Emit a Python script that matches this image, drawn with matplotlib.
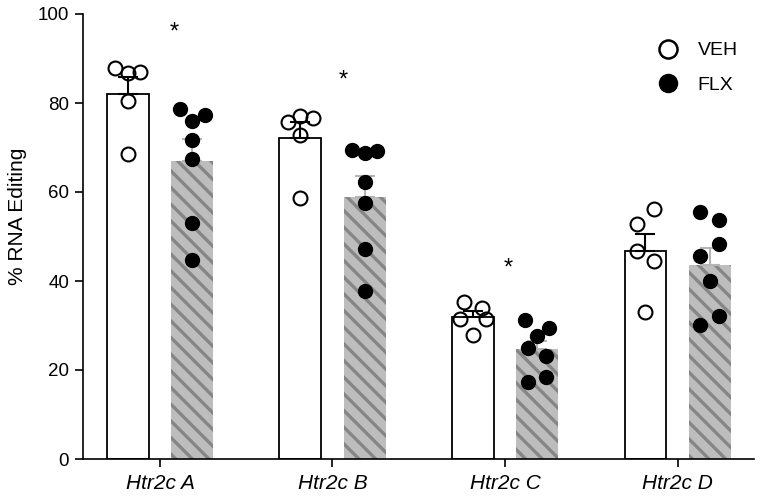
import numpy as np
import matplotlib
matplotlib.use("Agg")
import matplotlib.pyplot as plt
from matplotlib.lines import Line2D

plt.rcParams['font.family'] = ['Liberation Sans', 'DejaVu Sans']
plt.rcParams['hatch.linewidth'] = 2.4

categories = ["Htr2c A", "Htr2c B", "Htr2c C", "Htr2c D"]
groups = ["VEH", "FLX"]

veh_points = [
    [87.9, 86.7, 87.0, 80.4, 68.6],
    [75.8, 77.1, 76.6, 72.8, 58.6],
    [35.3, 33.9, 31.5, 31.5, 27.9],
    [56.1, 52.8, 46.7, 44.6, 33.1],
]
flx_points = [
    [78.6, 77.3, 76.0, 71.7, 67.4, 53.0, 44.8],
    [69.4, 68.7, 69.3, 62.3, 57.5, 47.1, 37.8],
    [31.2, 29.5, 27.6, 25.0, 23.1, 18.5, 17.4],
    [55.6, 53.6, 48.3, 45.6, 40.0, 32.2, 30.1],
]
# horizontal jitter of dots (fraction of category spacing)
veh_jitter = [
    [-0.075, 0.0, 0.07, 0.0, 0.0],
    [-0.07, 0.0, 0.073, 0.0, 0.0],
    [-0.052, 0.052, -0.073, 0.073, 0.0],
    [0.052, -0.052, -0.052, 0.052, 0.0],
]
flx_jitter = [
    [-0.07, 0.075, 0.0, 0.0, 0.0, 0.0, 0.0],
    [-0.075, 0.0, 0.07, 0.0, 0.0, 0.0, 0.0],
    [-0.07, 0.07, 0.0, -0.052, 0.052, 0.052, -0.052],
    [-0.055, 0.055, 0.055, -0.055, 0.0, 0.055, -0.055],
]
# significance markers: (category index, y value, x offset)
sig_cats = [0, 1, 2]
sig_y = [95.8, 85.0, 42.7]
sig_dx = [0.08, 0.06, 0.02]

fig = plt.figure(figsize=(7.6, 5.0), dpi=100)
ax = fig.add_axes([83/760, 1-459/500, (754-83)/760, 445/500])

x = np.arange(len(categories))
off = 0.186
w = 0.243

veh_mean = np.array([np.mean(p) for p in veh_points])
flx_mean = np.array([np.mean(p) for p in flx_points])
veh_sem = np.array([np.std(p, ddof=1)/np.sqrt(len(p)) for p in veh_points])
flx_sem = np.array([np.std(p, ddof=1)/np.sqrt(len(p)) for p in flx_points])

ax.bar(x - off, veh_mean, width=w, facecolor='white', edgecolor='black', linewidth=1.3, zorder=2)
ax.bar(x + off, flx_mean, width=w, facecolor='#bdbdbd', edgecolor='#868686', hatch='\\\\', linewidth=0, zorder=2)

ax.errorbar(x - off, veh_mean, yerr=[np.zeros(4), veh_sem], fmt='none', ecolor='black',
            elinewidth=1.5, capsize=7.2, capthick=1.5, zorder=3)
ax.errorbar(x + off, flx_mean, yerr=[np.zeros(4), flx_sem], fmt='none', ecolor='#b5b5b5',
            elinewidth=1.5, capsize=7.2, capthick=1.5, zorder=3)

for i in range(len(categories)):
    xs = (x[i] - off) + np.array(veh_jitter[i])
    ax.plot(xs, veh_points[i], 'o', ms=10, mfc='none', mec='black', mew=1.5, zorder=4, clip_on=False)
    xs = (x[i] + off) + np.array(flx_jitter[i])
    ax.plot(xs, flx_points[i], 'o', ms=10, mfc='black', mec='black', mew=1.0, zorder=4, clip_on=False)

for c, yv, dx in zip(sig_cats, sig_y, sig_dx):
    ax.text(x[c] + dx, yv, '*', ha='center', va='center', fontsize=17)

ax.set_xlim(-0.446, 3.443)
ax.set_ylim(0, 100)
ax.set_yticks([0, 20, 40, 60, 80, 100])
ax.set_xticks(x)
ax.set_xticklabels(categories, fontstyle='italic', fontsize=15)
ax.tick_params(axis='y', labelsize=13.5, length=6, width=1.2, direction='out', pad=4)
ax.tick_params(axis='x', length=6, width=1.2, direction='out', pad=5)
ax.spines['top'].set_visible(False)
ax.spines['right'].set_visible(False)
ax.spines['left'].set_linewidth(1.2)
ax.spines['bottom'].set_linewidth(1.2)
ax.set_ylabel('% RNA Editing', fontsize=15)
ax.yaxis.set_label_coords(-56/671, 0.546)

handles = [
    Line2D([], [], marker='o', ls='none', ms=13, mfc='none', mec='black', mew=1.8),
    Line2D([], [], marker='o', ls='none', ms=13, mfc='black', mec='black'),
]
ax.legend(handles, groups, loc='upper left', bbox_to_anchor=(0.823, 0.968), frameon=False,
          fontsize=14, handletextpad=0.5, labelspacing=0.85, borderaxespad=0.3)

fig.savefig('out.png', dpi=100)
